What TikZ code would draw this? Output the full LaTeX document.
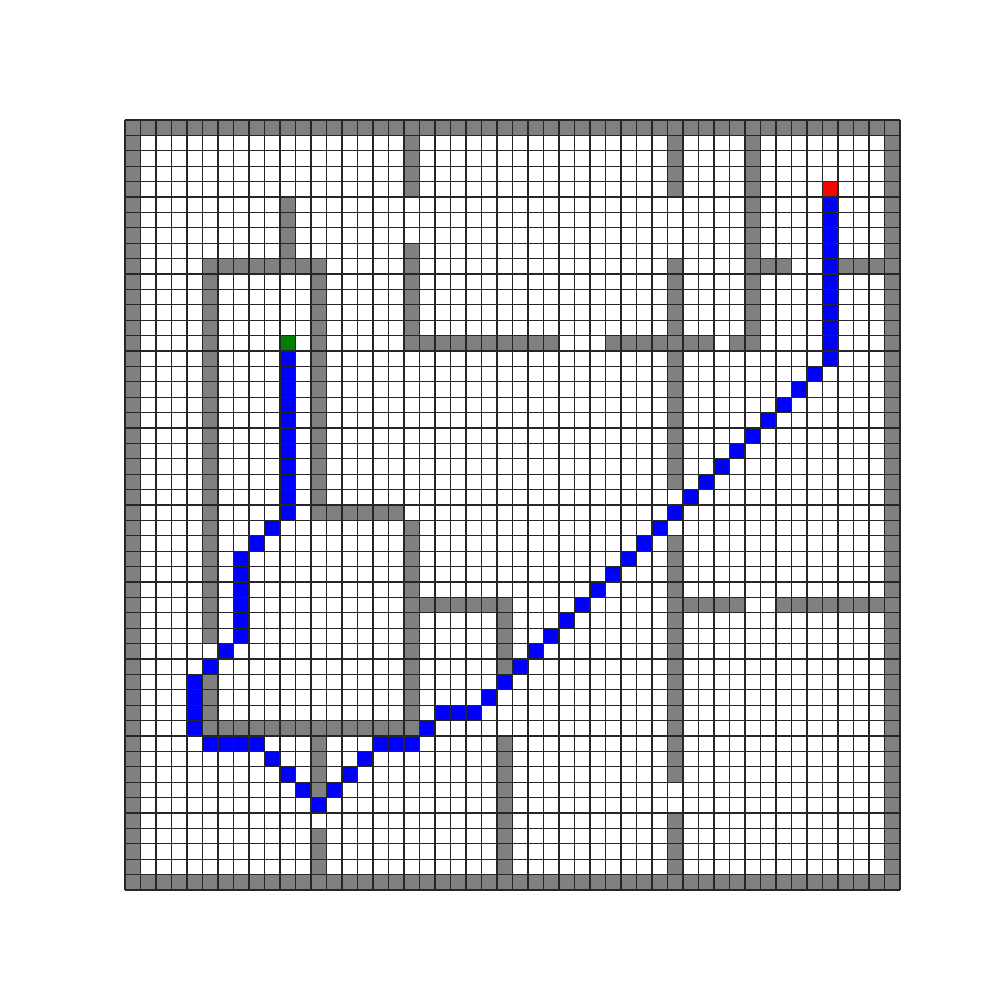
\documentclass[tikz,border=0pt]{standalone}
\definecolor{wallgray}{HTML}{808080}
\definecolor{pathblue}{HTML}{0000FF}
\definecolor{startgreen}{HTML}{008000}
\definecolor{goalred}{HTML}{FF0000}
\tikzset{
  wallcell/.style={fill=wallgray},
  pathcell/.style={fill=pathblue},
  startcell/.style={fill=startgreen},
  goalcell/.style={fill=goalred},
  gridline/.style={draw=black!85, line width=0.35pt}
}
% row, col-from, col-to
\newcommand{\mzH}[4]{\fill[#1] (#3,#2) rectangle (#4+1,#2+1);}
% col, row-from, row-to
\newcommand{\mzV}[4]{\fill[#1] (#2,#3) rectangle (#2+1,#4+1);}
\begin{document}
\begin{tikzpicture}
\useasboundingbox (0,0) rectangle (10,10);
\begin{scope}[shift={(1.25,8.8)}, x={(0.155cm,0)}, y={(0,-0.154cm)}]
  % border walls
  \mzH{wallcell}{0}{0}{49}
  \mzH{wallcell}{49}{0}{49}
  \mzV{wallcell}{0}{0}{49}
  \mzV{wallcell}{49}{0}{49}
  % inner walls
  \mzV{wallcell}{18}{1}{4}
  \mzV{wallcell}{35}{1}{4}
  \mzV{wallcell}{40}{1}{14}
  \mzV{wallcell}{10}{5}{8}
  \mzH{wallcell}{9}{5}{12}
  \mzV{wallcell}{5}{9}{33}
  \mzV{wallcell}{12}{9}{25}
  \mzH{wallcell}{25}{12}{17}
  \mzV{wallcell}{18}{8}{14}
  \mzH{wallcell}{14}{18}{27}
  \mzH{wallcell}{14}{31}{37}
  \mzH{wallcell}{14}{39}{40}
  \mzV{wallcell}{35}{9}{23}
  \mzH{wallcell}{9}{41}{42}
  \mzH{wallcell}{9}{46}{48}
  \mzV{wallcell}{18}{26}{39}
  \mzH{wallcell}{31}{18}{24}
  \mzV{wallcell}{24}{31}{35}
  \mzV{wallcell}{24}{40}{48}
  \mzH{wallcell}{39}{5}{18}
  \mzV{wallcell}{5}{36}{38}
  \mzV{wallcell}{12}{40}{43}
  \mzV{wallcell}{12}{46}{48}
  \mzV{wallcell}{35}{27}{42}
  \mzV{wallcell}{35}{45}{48}
  \mzH{wallcell}{31}{35}{39}
  \mzH{wallcell}{31}{42}{48}
  % path
  \mzV{pathcell}{10}{15}{25}
  \foreach \c/\r in {9/26,8/27,6/34,5/35,9/41,10/42,11/43,12/44,13/43,14/42,15/41,19/39,23/37}
    {\fill[pathcell] (\c,\r) rectangle ++(1,1);}
  \mzV{pathcell}{7}{28}{33}
  \mzV{pathcell}{4}{36}{39}
  \mzH{pathcell}{40}{5}{8}
  \mzH{pathcell}{40}{16}{18}
  \mzH{pathcell}{38}{20}{22}
  \foreach \r in {16,...,37}
    {\fill[pathcell] ({60-\r},\r) rectangle ++(1,1);}
  \mzV{pathcell}{45}{5}{15}
  % start and goal
  \fill[startcell] (10,14) rectangle ++(1,1);
  \fill[goalcell] (45,4) rectangle ++(1,1);
  % grid
  \foreach \i in {0,...,50}
    {\draw[gridline] (\i,0) -- (\i,50);
     \draw[gridline] (0,\i) -- (50,\i);}
\end{scope}
\end{tikzpicture}
\end{document}
